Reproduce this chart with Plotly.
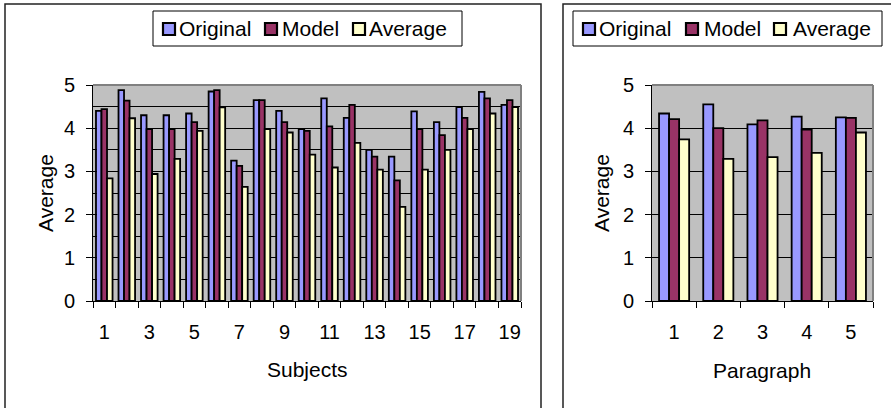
import plotly.graph_objects as go

# ---------------- data ----------------
subjects = list(range(1, 20))
subj_original = [4.40, 4.88, 4.30, 4.30, 4.34, 4.85, 3.25, 4.65, 4.40, 3.98,
                 4.69, 4.24, 3.50, 3.34, 4.39, 4.14, 4.49, 4.84, 4.54]
subj_model = [4.44, 4.64, 3.98, 3.98, 4.14, 4.88, 3.13, 4.65, 4.14, 3.94,
              4.04, 4.54, 3.34, 2.79, 3.98, 3.84, 4.24, 4.69, 4.65]
subj_average = [2.84, 4.23, 2.94, 3.29, 3.94, 4.48, 2.64, 3.98, 3.90, 3.39,
                3.09, 3.66, 3.04, 2.18, 3.04, 3.50, 3.98, 4.34, 4.49]
subj_ticks = [1, 3, 5, 7, 9, 11, 13, 15, 17, 19]

paragraphs = [1, 2, 3, 4, 5]
para_original = [4.34, 4.55, 4.09, 4.27, 4.25]
para_model = [4.21, 4.00, 4.18, 3.97, 4.24]
para_average = [3.74, 3.29, 3.33, 3.43, 3.90]

series_names = ["Original", "Model", "Average"]
series_colors = ["#9999FF", "#993366", "#FFFFCC"]

W, H = 891, 408
FONT = "Liberation Sans, Arial, Helvetica, sans-serif"


def px(x):
    return x / W


def py(y):
    return 1 - y / H


# plot-area geometry (pixels)
L_X0, L_X1 = 93, 521
R_X0, R_X1 = 652, 873
P_Y0, P_Y1 = 85, 301

fig = go.Figure()

left_sets = [subj_original, subj_model, subj_average]
right_sets = [para_original, para_model, para_average]

wl = 0.245
for i, (name, col, vals) in enumerate(zip(series_names, series_colors, left_sets)):
    fig.add_trace(go.Bar(
        x=subjects, y=vals, name=name, xaxis="x", yaxis="y",
        width=wl, offset=-1.5 * wl + i * wl,
        marker=dict(color=col, line=dict(color="black", width=1.8)),
        showlegend=False))

wr = 0.227
for i, (name, col, vals) in enumerate(zip(series_names, series_colors, right_sets)):
    fig.add_trace(go.Bar(
        x=paragraphs, y=vals, name=name, xaxis="x2", yaxis="y2",
        width=wr, offset=-1.5 * wr + i * wr,
        marker=dict(color=col, line=dict(color="black", width=1.8)),
        showlegend=False))

tickfont = dict(family=FONT, size=20, color="black")

fig.update_layout(
    width=W, height=H,
    margin=dict(l=0, r=0, t=0, b=0, pad=0, autoexpand=False),
    paper_bgcolor="white",
    plot_bgcolor="#C0C0C0",
    barmode="overlay",
    showlegend=False,
    xaxis=dict(
        domain=[px(L_X0), px(L_X1)], anchor="y", automargin=False,
        range=[0.5, 19.5], tickmode="array", tickvals=subj_ticks,
        ticktext=[str(t) for t in subj_ticks],
        ticks="", showgrid=False, zeroline=False,
        showline=True, linecolor="black", linewidth=1,
        tickfont=tickfont, ticklabelstandoff=13,
        minor=dict(tick0=0.5, dtick=1, ticks="outside", ticklen=6,
                   tickcolor="black", tickwidth=1, showgrid=False),
    ),
    yaxis=dict(
        domain=[py(P_Y1), py(P_Y0)], anchor="x", automargin=False,
        range=[0, 5], dtick=1, ticks="outside", ticklen=6, tickcolor="black",
        showgrid=True, gridcolor="black", gridwidth=1, zeroline=False,
        showline=True, linecolor="black", linewidth=1,
        tickfont=tickfont, ticklabelstandoff=7,
        minor=dict(dtick=0.5, ticks="inside", ticklen=4, tickcolor="black",
                   showgrid=True, gridcolor="black", gridwidth=1),
    ),
    xaxis2=dict(
        domain=[px(R_X0), px(R_X1)], anchor="y2", automargin=False,
        range=[0.5, 5.5], tickmode="array", tickvals=paragraphs,
        ticktext=[str(p) for p in paragraphs],
        ticks="", showgrid=False, zeroline=False,
        showline=True, linecolor="black", linewidth=1,
        tickfont=tickfont, ticklabelstandoff=13,
        minor=dict(tick0=0.5, dtick=1, ticks="outside", ticklen=6,
                   tickcolor="black", tickwidth=1, showgrid=False),
    ),
    yaxis2=dict(
        domain=[py(P_Y1), py(P_Y0)], anchor="x2", automargin=False,
        range=[0, 5], dtick=1, ticks="outside", ticklen=6, tickcolor="black",
        showgrid=True, gridcolor="black", gridwidth=1, zeroline=False,
        showline=True, linecolor="black", linewidth=1,
        tickfont=tickfont, ticklabelstandoff=7,
    ),
)

shapes = []
annotations = []

# outer chart boxes
shapes.append(dict(type="rect", xref="paper", yref="paper",
                   x0=px(5), x1=px(541), y0=py(420), y1=py(4),
                   line=dict(color="#222222", width=1.5), layer="below"))
shapes.append(dict(type="rect", xref="paper", yref="paper",
                   x0=px(563), x1=px(900), y0=py(420), y1=py(4),
                   line=dict(color="#222222", width=1.5), layer="below"))

# plot-area gray borders (top and right)
for x0, x1 in [(L_X0, L_X1), (R_X0, R_X1)]:
    shapes.append(dict(type="line", xref="paper", yref="paper",
                       x0=px(x0), x1=px(x1), y0=py(P_Y0), y1=py(P_Y0),
                       line=dict(color="#808080", width=2)))
    shapes.append(dict(type="line", xref="paper", yref="paper",
                       x0=px(x1), x1=px(x1), y0=py(P_Y0), y1=py(P_Y1),
                       line=dict(color="#808080", width=2)))


# manual legends
def add_legend(box_x0, box_x1, sq_x, txt_x):
    shapes.append(dict(type="rect", xref="paper", yref="paper",
                       x0=px(box_x0), x1=px(box_x1), y0=py(46), y1=py(11),
                       line=dict(color="black", width=1), fillcolor="white"))
    for sx, tx, name, col in zip(sq_x, txt_x, series_names, series_colors):
        shapes.append(dict(type="rect", xref="paper", yref="paper",
                           x0=px(sx + 1), x1=px(sx + 13), y0=py(35), y1=py(23),
                           line=dict(color="black", width=2.2), fillcolor=col))
        annotations.append(dict(xref="paper", yref="paper", x=px(tx), y=py(29),
                                text=name, showarrow=False, xanchor="left",
                                yanchor="middle",
                                font=dict(family=FONT, size=21, color="black")))


add_legend(153, 462, [162, 264, 352], [177, 280, 367])
add_legend(573, 882, [582, 685, 773], [597, 702, 791])

title_font = dict(family=FONT, size=21, color="black")
# axis titles
annotations.append(dict(xref="paper", yref="paper", x=px(45), y=py(193),
                        text="Average", textangle=-90, showarrow=False,
                        xanchor="center", yanchor="middle", font=title_font))
annotations.append(dict(xref="paper", yref="paper", x=px(601), y=py(193),
                        text="Average", textangle=-90, showarrow=False,
                        xanchor="center", yanchor="middle", font=title_font))
annotations.append(dict(xref="paper", yref="paper", x=px(307), y=py(369),
                        text="Subjects", showarrow=False,
                        xanchor="center", yanchor="middle", font=title_font))
annotations.append(dict(xref="paper", yref="paper", x=px(762), y=py(370),
                        text="Paragraph", showarrow=False,
                        xanchor="center", yanchor="middle", font=title_font))

fig.update_layout(shapes=shapes, annotations=annotations)
fig.write_html(
    "out.html",
    config={"displayModeBar": False},
    post_script="document.body.style.margin='0';document.body.style.overflow='hidden';",
)
